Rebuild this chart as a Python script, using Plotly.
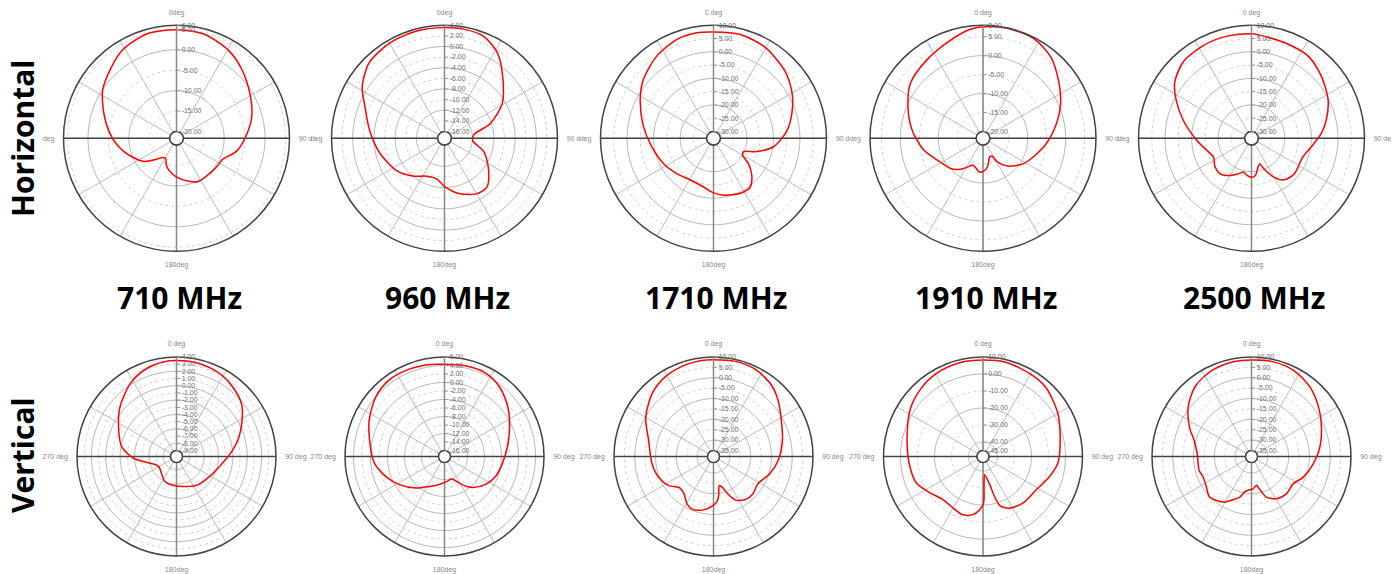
import plotly.graph_objects as go

# ---------------- data (dB vs azimuth) ----------------
freq_labels = ["710 MHz", "960 MHz", "1710 MHz", "1910 MHz", "2500 MHz"]
row_labels = ["Horizontal", "Vertical"]

h710_theta = [0, 15, 31, 44, 60, 74, 90, 102, 115, 125, 136, 153, 164, 181, 194, 201, 209, 217, 223, 232, 238, 254, 270, 287, 303, 316, 328, 344]
h710_db = [4.9, 4.7, 3.3, 1.5, -0.8, -2.5, -4.9, -6.6, -9.3, -9.6, -9.8, -9.8, -10.7, -12.3, -13.7, -14.7, -16.1, -15.8, -14.7, -12.5, -11.3, -8.7, -6.0, -3.2, -0.1, 1.7, 3.6, 4.9]
h710_ticks = [6, 5, 0, -5, -10, -15, -20]

h960_theta = [0, 10, 21, 32, 45, 59, 72, 83, 94, 109, 126, 139, 150, 164, 179, 191, 205, 220, 236, 257, 276, 292, 302, 315, 330, 345]
h960_db = [3.6, 3.6, 3.3, 1.6, -1.7, -4.6, -8.2, -11.7, -12.0, -9.4, -7.0, -5.1, -5.2, -6.4, -8.1, -9.5, -9.4, -8.0, -6.4, -4.8, -3.1, -1.1, 1.0, 2.8, 3.4, 3.6]
h960_ticks = [4, 2, 0, -2, -4, -6, -8, -10, -12, -14, -16]

h1710_theta = [0, 14, 29, 46, 60, 72, 84, 98, 107, 114, 120, 126, 134, 143, 154, 170, 180, 192, 209, 226, 243, 262, 280, 298, 310, 325, 340, 351]
h1710_db = [7.5, 7.8, 6.9, 4.5, 1.6, -1.5, -4.7, -9.7, -15.5, -20.2, -19.9, -16.3, -12.5, -9.6, -9.5, -10.8, -12.0, -13.9, -14.6, -13.4, -11.5, -9.1, -5.7, -1.3, 1.9, 5.0, 7.2, 7.7]
h1710_ticks = [10, 5, 0, -5, -10, -15, -20, -25, -30]

h1910_theta = [0, 12, 27, 40, 52, 66, 81, 98, 122, 139, 149, 153, 160, 171, 180, 187, 193, 202, 207, 216, 227, 241, 259, 277, 293, 307, 324, 342, 353]
h1910_db = [7.6, 7.9, 7.7, 6.1, 3.4, 0.6, -2.5, -5.6, -9.2, -12.1, -14.6, -16.5, -16.6, -14.2, -13.0, -12.9, -13.7, -14.2, -13.4, -11.7, -10.1, -8.9, -5.8, -2.9, -0.3, 2.2, 3.6, 5.5, 7.1]
h1910_ticks = [8, 5, 0, -5, -10, -15, -20]

h2500_theta = [0, 9, 21, 34, 48, 63, 76, 86, 98, 110, 130, 142, 150, 158, 162, 167, 174, 180, 187, 193, 200, 210, 222, 232, 244, 255, 268, 285, 297, 306, 318, 332, 346]
h2500_db = [6.8, 6.0, 5.5, 5.1, 2.7, -0.2, -3.5, -6.2, -9.8, -12.0, -11.6, -12.7, -15.7, -20.2, -22.5, -21.5, -18.5, -17.9, -18.5, -19.5, -18.4, -16.4, -14.7, -15.1, -16.6, -15.1, -11.9, -5.9, -0.7, 3.2, 6.0, 6.8, 7.0]
h2500_ticks = [10, 5, 0, -5, -10, -15, -20, -25, -30]

v710_theta = [0, 14, 28, 39, 51, 61, 75, 88, 103, 121, 143, 162, 187, 205, 222, 238, 247, 259, 268, 280, 295, 311, 328, 341, 352]
v710_db = [3.5, 3.47, 3.16, 2.6, 1.8, 0.6, -1.0, -2.45, -3.7, -4.45, -4.9, -5.45, -5.8, -6.0, -6.7, -7.0, -6.8, -5.6, -3.8, -2.1, -0.96, 0.6, 2.2, 3.07, 3.43]
v710_ticks = [4, 3, 2, 1, 0, -1, -2, -3, -4, -5, -6, -7, -8, -9]

v960_theta = [0, 13, 26, 38, 52, 65, 81, 97, 111, 124, 138, 148, 158, 164, 173, 191, 207, 222, 238, 251, 265, 283, 296, 311, 324, 338, 351]
v960_db = [4.3, 4.5, 4.5, 3.5, 1.5, -0.5, -2.4, -3.7, -4.5, -5.7, -7.6, -9.6, -11.5, -11.9, -11.55, -10.7, -9.5, -7.4, -4.9, -2.85, -0.8, 0.7, 2.3, 4.0, 4.8, 4.75, 4.5]
v960_ticks = [6, 4, 2, 0, -2, -4, -6, -8, -10, -12, -14, -16]

v1710_theta = [0, 13, 26, 39, 49, 62, 77, 94, 107, 122, 134, 143, 153, 159, 164, 169, 172, 175, 181, 192, 202, 209, 218, 228, 237, 249, 263, 284, 300, 316, 329, 343, 353]
v1710_db = [8.7, 9.1, 8.6, 6.4, 3.3, -0.9, -3.85, -6.8, -9.6, -12.8, -11.7, -12.05, -14.3, -18.6, -22.4, -23.6, -19.6, -16.5, -14.1, -11.5, -10.6, -11.7, -14.9, -15.6, -12.2, -9.7, -8.1, -5.7, -0.2, 4.5, 7.0, 8.25, 8.7]
v1710_ticks = [10, 5, 0, -5, -10, -15, -20, -25, -30, -35]

v1910_theta = [0, 14, 30, 42, 60, 78, 95, 107, 122, 139, 153, 161, 164, 167, 175, 178, 179.3, 183.6, 190, 199, 210, 223, 236, 248, 262, 282, 303, 317, 331, 346]
v1910_db = [8.2, 8.5, 7.5, 6.5, 2.3, -2.1, -4.3, -7.7, -11.6, -12.4, -14.4, -18.0, -24.3, -32.4, -37.7, -30.9, -21.1, -17.2, -13.8, -12.3, -13.45, -13.9, -10.6, -6.4, -5.1, -2.85, 2.5, 5.5, 7.5, 8.3]
v1910_ticks = [10, 0, -10, -20, -30, -40, -45]

v2500_theta = [0, 13, 26, 40, 54, 67, 82, 97, 112, 123, 137, 149, 160, 164, 168, 170, 177, 186, 191, 196, 203, 212, 226, 236, 247, 255, 273, 286, 295, 308, 321, 334, 347]
v2500_db = [8.5, 8.85, 8.25, 5.85, 2.1, -1.3, -4.6, -8.0, -11.1, -13.9, -13.3, -14.2, -17.1, -20.1, -22.9, -23.8, -22.4, -21.5, -20.5, -17.5, -15.3, -12.0, -9.85, -11.7, -12.6, -11.8, -11.7, -9.1, -5.0, 0.8, 5.3, 7.5, 8.4]
v2500_ticks = [10, 5, 0, -5, -10, -15, -20, -25, -30, -35]

# angular tick labels as they appear (neighbouring panels clip the side labels on the top row)
top_row_angle_labels = [
    ["0deg", "90 d", "180deg", "deg"],
    ["0deg", "90 d", "180deg", "deg"],
    ["0 deg", "90 d", "180deg", "deg"],
    ["0 deg", "90 d", "180deg", "deg"],
    ["0 deg", "90 de", "180deg", "deg"],
]
bottom_row_angle_labels = [
    ["0 deg", "90 deg", "180deg", "270 deg"],
    ["0 deg", "90 deg", "180deg", "270 deg"],
    ["0 deg", "90 deg", "180deg", "270 deg"],
    ["0 deg", "90 deg", "180deg", "270 deg"],
    ["0 deg", "90 deg", "180deg", "270 deg"],
]

# ---------------- layout constants ----------------
W, H = 1398, 574
col_cx = [176.5, 444.5, 713.5, 983.0, 1251.5]
top_cy, top_R = 138.3, 113.0
bot_cy, bot_R = 456.5, 99.5
major_steps_top = [10, 4, 10, 10, 10]
major_steps_bot = [2, 4, 10, 20, 10]

panels = [
    (h710_theta, h710_db, h710_ticks), (h960_theta, h960_db, h960_ticks),
    (h1710_theta, h1710_db, h1710_ticks), (h1910_theta, h1910_db, h1910_ticks),
    (h2500_theta, h2500_db, h2500_ticks),
    (v710_theta, v710_db, v710_ticks), (v960_theta, v960_db, v960_ticks),
    (v1710_theta, v1710_db, v1710_ticks), (v1910_theta, v1910_db, v1910_ticks),
    (v2500_theta, v2500_db, v2500_ticks),
]

ring_theta = list(range(0, 361, 2))
spoke_theta = list(range(0, 360, 30))

fig = go.Figure()
layout_polars = {}
for i, (th, db, ticks) in enumerate(panels):
    row, col = divmod(i, 5)
    key = "polar" if i == 0 else f"polar{i + 1}"
    cx = col_cx[col]
    cy = top_cy if row == 0 else bot_cy
    R = top_R if row == 0 else bot_R
    rmax, rmin = max(ticks), min(ticks)
    major = (major_steps_top if row == 0 else major_steps_bot)[col]
    alabels = (top_row_angle_labels if row == 0 else bottom_row_angle_labels)[col]

    # grid rings
    for v in ticks:
        if v == rmax or v == rmin:
            continue
        solid = (v % major == 0)
        fig.add_trace(go.Scatterpolar(
            r=[v] * len(ring_theta), theta=ring_theta, mode="lines", subplot=key,
            line=dict(color="#b5b5b5" if solid else "#cfcfcf", width=1, dash="solid" if solid else "dot"),
            hoverinfo="skip", showlegend=False))
    # main cross axes
    fig.add_trace(go.Scatterpolar(
        r=[rmin, rmax, None, rmin, rmax], theta=[90, 90, None, 270, 270], mode="lines", subplot=key,
        line=dict(color="#444444", width=1.5), hoverinfo="skip", showlegend=False))
    fig.add_trace(go.Scatterpolar(
        r=[rmin, rmax], theta=[180, 180], mode="lines", subplot=key,
        line=dict(color="#888888", width=1.5), hoverinfo="skip", showlegend=False))
    # centre hole outline
    fig.add_trace(go.Scatterpolar(
        r=[rmin] * len(ring_theta), theta=ring_theta, mode="lines", subplot=key,
        line=dict(color="#333333", width=1.2), hoverinfo="skip", showlegend=False))
    # pattern
    fig.add_trace(go.Scatterpolar(
        r=list(db) + [db[0]], theta=list(th) + [th[0]], mode="lines", subplot=key,
        line=dict(color="#ff0000", width=1.5, shape="spline", smoothing=0.8),
        hoverinfo="skip", showlegend=False))

    ticktext = []
    for a in spoke_theta:
        ticktext.append({0: alabels[0], 90: alabels[1], 180: alabels[2], 270: alabels[3]}.get(a, ""))

    layout_polars[key] = dict(
        domain=dict(x=[(cx - R) / W, (cx + R) / W], y=[1 - (cy + R) / H, 1 - (cy - R) / H]),
        hole=0.06,
        bgcolor="white",
        radialaxis=dict(
            range=[rmin, rmax], angle=90, side="clockwise", tickangle=90,
            tickvals=ticks, ticktext=[f"{v:.2f}" for v in ticks],
            showgrid=False, showline=True, linecolor="#888888", linewidth=1.5,
            ticks="outside", ticklen=3, tickcolor="#999999",
            tickfont=dict(family="Liberation Sans, Arial", size=7, color="#6e6e6e"),
        ),
        angularaxis=dict(
            rotation=90, direction="clockwise",
            tickvals=spoke_theta, ticktext=ticktext,
            showgrid=True, gridcolor="#bdbdbd", gridwidth=1,
            showline=True, linecolor="#444444", linewidth=1.5,
            ticks="outside", ticklen=7, tickcolor="rgba(0,0,0,0)",
            tickfont=dict(family="Liberation Sans, Arial", size=7, color="#888888"),
        ),
    )

annotations = []
for col, lab in enumerate(freq_labels):
    annotations.append(dict(
        text=lab, x=col_cx[col] / W + 0.002, y=1 - 297 / H, xref="paper", yref="paper",
        showarrow=False, xanchor="center", yanchor="middle",
        font=dict(family="Open Sans", size=30, color="black", weight="bold")))
for lab, yy in zip(row_labels, [138, 455]):
    annotations.append(dict(
        text=lab, x=22 / W, y=1 - yy / H, xref="paper", yref="paper", textangle=-90,
        showarrow=False, xanchor="center", yanchor="middle",
        font=dict(family="Open Sans", size=30, color="black", weight="bold")))

fig.update_layout(
    width=W, height=H, margin=dict(l=0, r=0, t=0, b=0),
    paper_bgcolor="white", plot_bgcolor="white", showlegend=False,
    annotations=annotations, **layout_polars)

fig.write_html("out.html", config={"displayModeBar": False},
               post_script="document.body.style.margin='0px';")
